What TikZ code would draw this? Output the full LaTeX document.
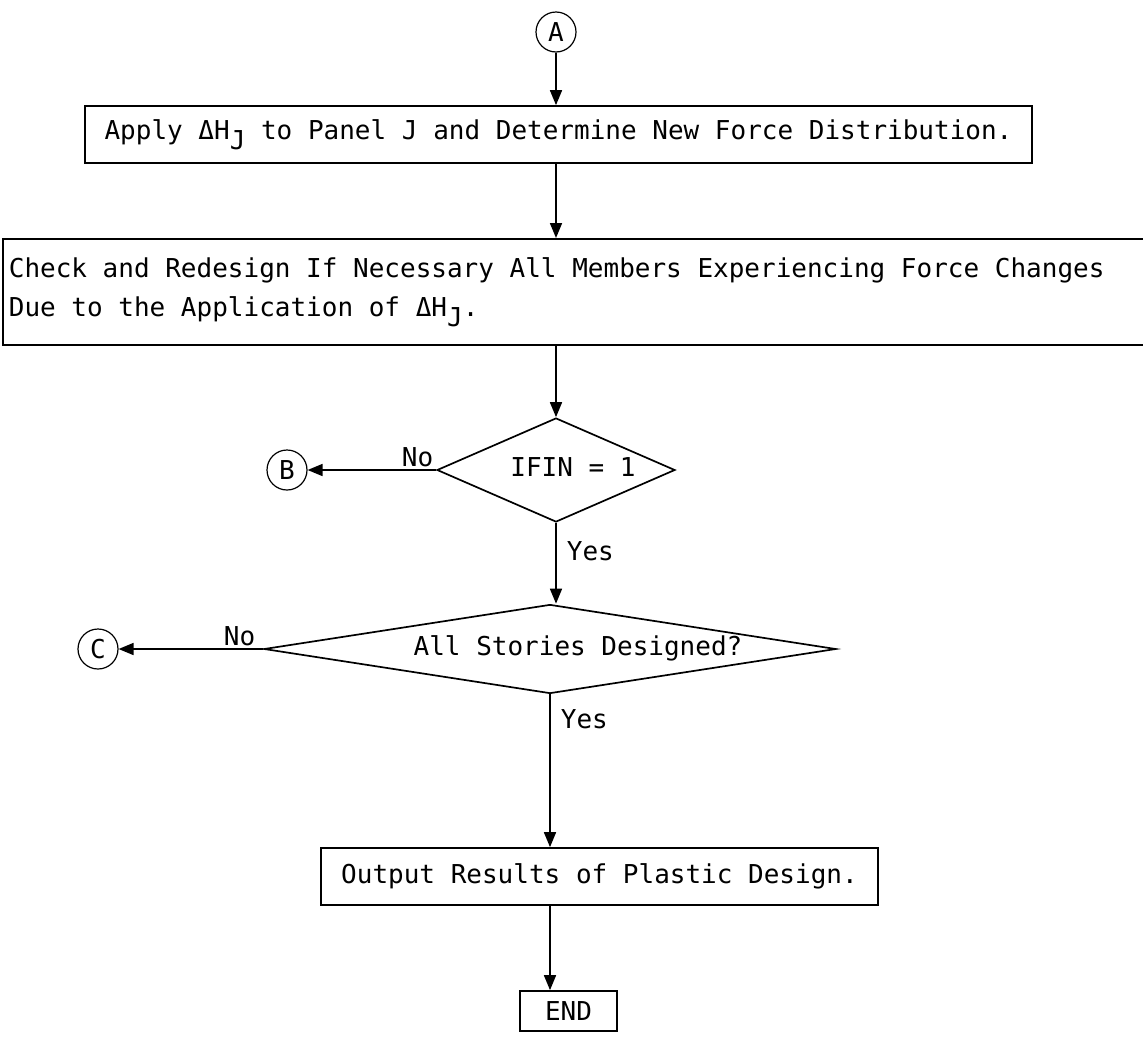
\documentclass[tikz,border=0pt]{standalone}
\usepackage{fontspec}
\setmonofont{DejaVu Sans Mono}
\usetikzlibrary{shapes.geometric,arrows.meta}
\newcommand{\lowsub}[1]{\raisebox{-0.38em}{#1}}
\newcommand{\fixedspace}{\spaceskip=15.65pt plus 0pt minus 0pt\relax}

\begin{document}
\begin{tikzpicture}[x=1pt, y=-1pt,
    every node/.style={font=\fontsize{26}{39}\selectfont\ttfamily},
    flow/.style={line width=1.7pt, -{Triangle[length=15pt, width=12pt]}},
    stepbox/.style={draw, line width=1.7pt, inner xsep=13pt, inner ysep=0pt},
    connector/.style={draw, circle, line width=1.2pt, minimum size=40pt, inner sep=0pt},
    decision/.style={draw, diamond, line width=1.7pt, inner sep=0pt, text height=18pt, text depth=6pt},
    answer/.style={inner sep=2pt},
  ]

\useasboundingbox (0,0) rectangle (1143,1039);

%entry and panel step
\node[connector] (a) at (556,32) {A};
\node[stepbox, minimum width=947pt, minimum height=57pt] (apply) at (558.5,134.5)
  {Apply ΔH\lowsub{J} to Panel J and Determine New Force Distribution.};
\node[stepbox, anchor=north west, minimum height=106pt, text width=1158pt, align=left, inner xsep=6pt] (check) at (2,238)
  {\fixedspace Check and Redesign If Necessary All Members Experiencing Force Changes\\\fixedspace Due to the Application of ΔH\lowsub{J}.};

%decisions
\node[decision, shape aspect=2.5, minimum width=238pt, minimum height=104pt] (fin) at (556,470) {\hspace*{34pt}IFIN = 1};
\node[connector] (b) at (287,470) {B};
\node[decision, shape aspect=6.8, minimum width=572pt, minimum height=89pt] (stories) at (550,649) {\hspace*{56pt}All Stories Designed?};
\node[connector] (c) at (98,649) {C};

%output
\node[stepbox, minimum width=557pt, minimum height=57pt] (output) at (599.5,876.5) {Output Results of Plastic Design.};
\node[stepbox, minimum width=97pt, minimum height=40pt, inner xsep=0pt] (stop) at (568.5,1011) {END};

%connectors
\draw[flow] (a) -- (a |- apply.north);
\draw[flow] (a |- apply.south) -- (a |- check.north);
\draw[flow] (fin |- check.south) -- (fin.north);
\draw[flow] (fin.west) -- node[answer, pos=0, above left] (no1) {No} (b);
\draw[flow] (fin.south) -- node[answer, pos=0.35, right, xshift=8pt] (yes1) {Yes} (fin.south |- stories.north);
\draw[flow] (stories.west) -- node[answer, pos=0, above left, xshift=-5pt] (no2) {No} (c);
\draw[flow] (stories.south) -- node[answer, pos=0.16, right, xshift=8pt] (yes2) {Yes} (stories.south |- output.north);
\draw[flow] (stories.south |- output.south) -- (stories.south |- stop.north);

\end{tikzpicture}
\end{document}
